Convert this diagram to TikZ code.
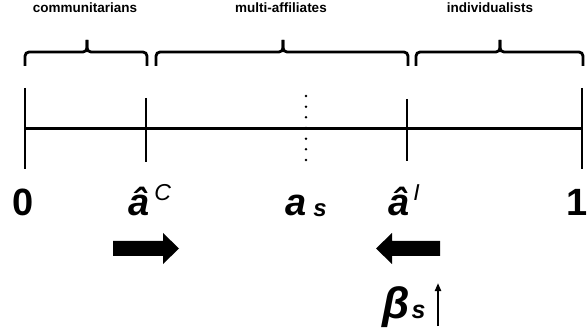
\documentclass[tikz,border=0pt]{standalone}
\usepackage{fontspec}
\setmainfont{Liberation Sans}
\usetikzlibrary{arrows.meta}
\begin{document}
\begin{tikzpicture}[x=1pt,y=-1pt,
  toplab/.style={anchor=base, inner sep=0pt, font=\bfseries\fontsize{13.5}{15}\selectfont},
  biglab/.style={anchor=base west, inner sep=0pt, font=\bfseries\fontsize{38}{40}\selectfont},
  axis/.style={line width=2.8pt},
  tickmark/.style={line width=2.6pt},
  bracepath/.style={line width=2.8pt, rounded corners=4pt},
  blockarrow/.style={fill=black, draw=none},
  dotline/.style={line width=2.8pt, line cap=round, dash pattern=on 0pt off 10.667pt}]
\useasboundingbox (0,0) rectangle (587,334);
% top labels
\node[toplab] (comm) at (85,13) {communitarians};
\node[toplab] (multi) at (281,13) {multi-affiliates};
\node[toplab] (indiv) at (490,13) {individualists};
% braces
\draw[bracepath] (25,66) -- (25,52) -- (87,52) -- (87,40);
\draw[bracepath] (87,40) -- (87,52) -- (147,52) -- (147,66);
\draw[bracepath] (156,66) -- (156,52) -- (283,52) -- (283,40);
\draw[bracepath] (283,40) -- (283,52) -- (408,52) -- (408,66);
\draw[bracepath] (416,66) -- (416,52) -- (500,52) -- (500,40);
\draw[bracepath] (500,40) -- (500,52) -- (583,52) -- (583,66);
% axis
\coordinate (L) at (25,128.5);
\coordinate (R) at (582,128.5);
\draw[axis] (L) -- (R);
\draw[tickmark] (25,88) -- (25,169);
\draw[tickmark] (582,88) -- (582,169);
\draw[tickmark] (146,98) -- (146,162);
\draw[tickmark] (407,99) -- (407,161);
\draw[dotline] (306,96) -- (306,160.1);
% labels
\node[biglab] (zero) at (12,216) {0};
\node[biglab] (ac) at (128,216) {\itshape â\hspace{5pt}\raisebox{16pt}{\mdseries\fontsize{23}{24}\selectfont C}};
\node[biglab] (as) at (285,216) {\itshape a\hspace{7pt}\raisebox{-1pt}{\fontsize{24}{26}\selectfont s}};
\node[biglab] (ai) at (388,216) {\itshape â\hspace{4pt}\raisebox{16pt}{\mdseries\fontsize{23}{24}\selectfont I}};
\node[biglab] (one) at (566,216) {1};
% block arrows
\fill[blockarrow] (113,241) -- (163,241) -- (163,233) -- (179,248.5) -- (163,264) -- (163,256) -- (113,256) -- cycle;
\fill[blockarrow] (440,241) -- (392,241) -- (392,233) -- (376,248.5) -- (392,264) -- (392,256) -- (440,256) -- cycle;
% beta
\node[biglab, font=\bfseries\fontsize{44}{46}\selectfont] (beta) at (382,318) {\itshape β\hspace{2pt}{\fontsize{25}{26}\selectfont s}};
\coordinate (up0) at (438,326);
\coordinate (up1) at (438,283);
\draw[line width=2pt, -{Triangle[length=8pt,width=6pt]}] (up0) -- (up1);
\end{tikzpicture}
\end{document}
